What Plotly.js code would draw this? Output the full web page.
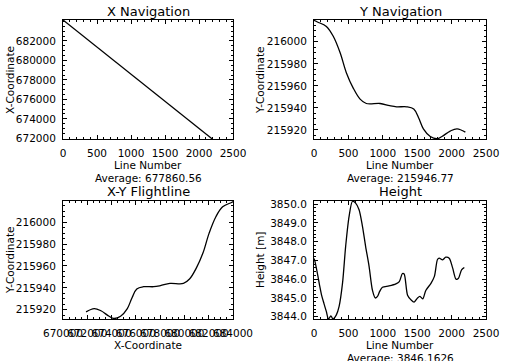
<!DOCTYPE html>
<html>
<head>
<meta charset="utf-8">
<script src="https://cdn.plot.ly/plotly-3.0.1.min.js"></script>
<style>html,body{margin:0;padding:0;background:#fff;}#plot{width:505px;height:361px;}</style>
</head>
<body>
<div id="plot"></div>
<script>
// ---- Data ----
const navLines = [0, 50, 180, 280, 380, 470, 570, 670, 760, 960, 1100, 1200, 1350, 1450, 1520, 1590, 1690, 1790, 1860, 1980, 2080, 2200];
const xNav = [684150, 683872, 683148, 682591, 682034, 681533, 680976, 680419, 679918, 678805, 678025, 677468, 676633, 676076, 675687, 675297, 674740, 674183, 673794, 673126, 672569, 671900];
const yNav = [216019.5, 216018, 216014, 216005, 215990, 215972, 215958, 215948, 215944, 215944, 215942, 215941, 215941, 215939, 215931, 215921, 215914, 215912, 215914, 215919, 215921, 215918];
const hLines = [0, 10, 50, 85, 110, 145, 180, 210, 245, 275, 325, 365, 415, 460, 510, 560, 605, 655, 705, 750, 800, 850, 890, 920, 955, 995, 1090, 1190, 1240, 1285, 1310, 1360, 1410, 1455, 1505, 1540, 1580, 1625, 1700, 1750, 1795, 1820, 1870, 1915, 1965, 2015, 2065, 2100, 2145, 2185];
const height = [3847.1, 3847.0, 3846.3, 3845.6, 3845.15, 3844.7, 3844.27, 3843.88, 3844.05, 3843.88, 3844.1, 3844.55, 3845.8, 3847.75, 3849.35, 3850.15, 3850.05, 3849.7, 3848.8, 3847.75, 3846.7, 3845.4, 3845.0, 3845.07, 3845.35, 3845.57, 3845.64, 3845.75, 3845.87, 3846.3, 3846.28, 3845.15, 3844.9, 3844.78, 3845.0, 3845.08, 3844.95, 3845.4, 3845.78, 3846.15, 3847.05, 3847.12, 3847.03, 3847.17, 3847.12, 3846.6, 3846.0, 3846.05, 3846.5, 3846.62];
const xNavTicks = [672000, 674000, 676000, 678000, 680000, 682000];
const titles = ["X Navigation", "Y Navigation", "X-Y Flightline", "Height"];
const averages = ["Average: 677860.56", "Average: 215946.77", "Average: 3846.1626"];

// ---- Layout helpers ----
const W = 505, H = 361;
const px = v => v / W;
const py = v => 1 - v / H;
const FONT = "DejaVu Sans";
const small = {family: FONT, size: 10.5, color: "#000"};
const big = {family: FONT, size: 13, color: "#000"};

function axis(domain, range, dtick, minorDtick, fmt, anchor) {
  return {
    domain: domain, range: range, anchor: anchor,
    tickmode: "linear", tick0: 0, dtick: dtick, tickformat: fmt,
    ticks: "inside", ticklen: 4, tickcolor: "#000", tickwidth: 1,
    showline: true, linecolor: "#000", linewidth: 1, mirror: "allticks",
    showgrid: false, zeroline: false, tickangle: 0,
    tickfont: small, ticklabelstandoff: 4,
    minor: {ticks: "inside", ticklen: 2, tickcolor: "#000", tickwidth: 1, dtick: minorDtick, showgrid: false}
  };
}

const line = {color: "#000", width: 1.3};
const traces = [
  {x: navLines, y: xNav, xaxis: "x", yaxis: "y", mode: "lines", line: line, hoverinfo: "none"},
  {x: navLines, y: yNav, xaxis: "x2", yaxis: "y2", mode: "lines", line: Object.assign({shape: "spline", smoothing: 1}, line), hoverinfo: "none"},
  {x: xNav, y: yNav, xaxis: "x3", yaxis: "y3", mode: "lines", line: Object.assign({shape: "spline", smoothing: 1}, line), hoverinfo: "none"},
  {x: hLines, y: height, xaxis: "x4", yaxis: "y4", mode: "lines", line: Object.assign({shape: "spline", smoothing: 0.8}, line), hoverinfo: "none"}
];

const leftX = [px(63), px(233)];
const rightX = [px(314), px(486)];
const topY = [py(139.3), py(20)];
const botY = [py(319), py(200.5)];

function ann(text, x, y, font, angle) {
  return {text: text, x: px(x), y: py(y), xref: "paper", yref: "paper", xanchor: "center", yanchor: "middle",
          showarrow: false, font: font, textangle: angle || 0, borderpad: 0};
}

const yaxis1 = axis(topY, [671900, 684150], 2000, 500, "d", "x");
yaxis1.tickmode = "array";
yaxis1.tickvals = xNavTicks;

const layout = {
  width: W, height: H, margin: {l: 0, r: 0, t: 0, b: 0},
  paper_bgcolor: "#fff", plot_bgcolor: "#fff", showlegend: false,
  xaxis: axis(leftX, [0, 2500], 500, 100, "d", "y"),
  yaxis: yaxis1,
  xaxis2: axis(rightX, [0, 2500], 500, 100, "d", "y2"),
  yaxis2: axis(topY, [215911.5, 216019.8], 20, 5, "d", "x2"),
  xaxis3: axis(leftX, [670000, 684000], 2000, 500, "d", "y3"),
  yaxis3: axis(botY, [215911.5, 216019.8], 20, 5, "d", "x3"),
  xaxis4: axis(rightX, [0, 2500], 500, 100, "d", "y4"),
  yaxis4: axis(botY, [3843.88, 3850.19], 1, 0.2, ".1f", "x4"),
  annotations: [
    ann(titles[0], 148, 11, big), ann(titles[1], 400, 11, big),
    ann(titles[2], 148, 191, big), ann(titles[3], 400, 191, big),
    ann("Line Number", 148, 165, small), ann("Line Number", 400, 165, small),
    ann(averages[0], 148, 177.5, small), ann(averages[1], 400, 177.5, small),
    ann("X-Coordinate", 148, 345, small), ann("Line Number", 400, 345, small),
    ann(averages[2], 400, 357.5, small),
    ann("X-Coordinate", 10, 80, small, -90), ann("Y-Coordinate", 260, 80, small, -90),
    ann("Y-Coordinate", 10, 260, small, -90), ann("Height [m]", 260, 260, small, -90)
  ]
};

Plotly.newPlot("plot", traces, layout, {staticPlot: true, displayModeBar: false});
</script>
</body>
</html>
